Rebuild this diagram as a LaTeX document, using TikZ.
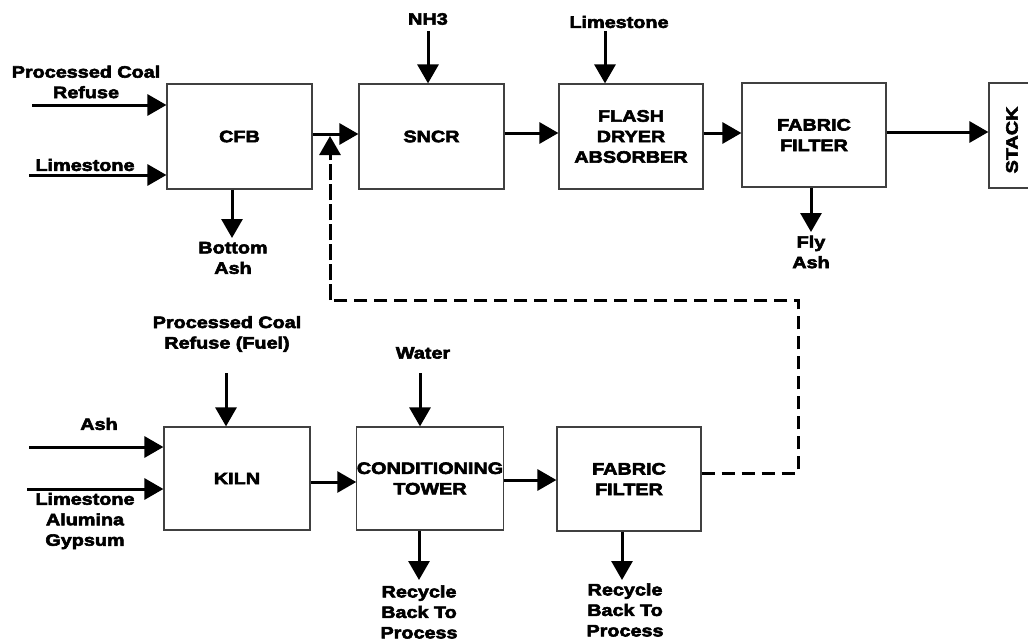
\documentclass[tikz,border=0pt]{standalone}
\usepackage{fontspec}
\setmainfont{Liberation Sans}[FakeStretch=1.2, BoldFeatures={FakeBold=3.5}]
\usetikzlibrary{arrows.meta}
\tikzset{
  box/.style={draw=black!75, line width=1.2pt, fill=white, align=center, inner sep=0pt},
  lbl/.style={align=center, inner sep=0pt, font=\bfseries\fontsize{16.5}{20.5}\selectfont},
  arr/.style={line width=3pt, -{Triangle[length=19pt,width=21pt]}},
  dsh/.style={line width=3pt, dash pattern=on 13pt off 7pt}
}
\begin{document}
\begin{tikzpicture}[x=1pt,y=-1pt]
\useasboundingbox (0,0) rectangle (1028,642);
\clip (0,0) rectangle (1028,642);
\fill[white] (0,0) rectangle (1028,642);
\begin{scope}[every node/.append style={font=\bfseries\fontsize{16.5}{20.5}\selectfont}]
% top row boxes
\node[box, minimum width=145pt, minimum height=105pt] (cfb) at (239.5,136.5) {CFB};
\node[box, minimum width=145pt, minimum height=105pt] (sncr) at (431.5,136.5) {SNCR};
\node[box, minimum width=144pt, minimum height=105pt] (fda) at (631,136.5) {FLASH\\DRYER\\ABSORBER};
\node[box, minimum width=144pt, minimum height=104pt] (ff1) at (814,135) {FABRIC\\FILTER};
\node[box, minimum width=51pt, minimum height=105pt] (stack) at (1014.5,135.5) {};
\node[lbl, rotate=90] (stacklbl) at (1012,140) {STACK};
% bottom row boxes
\node[box, minimum width=146pt, minimum height=103pt] (kiln) at (237,478.5) {KILN};
\node[box, minimum width=146pt, minimum height=103pt] (ct) at (430,478.5) {CONDITIONING\\TOWER};
\node[box, minimum width=144pt, minimum height=104pt] (ff2) at (629,479) {FABRIC\\FILTER};
\end{scope}

% labels
\node[lbl] (pcr) at (86,82) {Processed Coal\\Refuse};
\node[lbl] (lime1) at (85,165) {Limestone};
\node[lbl] (bash) at (233,258) {Bottom\\Ash};
\node[lbl] (nh3) at (428,19) {NH3};
\node[lbl] (lime2) at (619,22) {Limestone};
\node[lbl] (flyash) at (811,252) {Fly\\Ash};
\node[lbl] (pcrf) at (227,334) {Processed Coal\\Refuse (Fuel)};
\node[lbl] (water) at (423,353) {Water};
\node[lbl] (ash) at (99,424) {Ash};
\node[lbl] (lag) at (85,521) {Limestone\\Alumina\\Gypsum};
\node[lbl] (rec1) at (419,612) {Recycle\\Back To\\Process};
\node[lbl] (rec2) at (625,610) {Recycle\\Back To\\Process};

% free ends
\coordinate (i1) at (32,105);
\coordinate (i2) at (29,175);
\coordinate (o1) at (232,238);
\coordinate (i3) at (428,31);
\coordinate (i4) at (605,31);
\coordinate (o2) at (811,232);
\coordinate (i5) at (226,373);
\coordinate (i6) at (29,447);
\coordinate (i7) at (27,489);
\coordinate (i8) at (420,373);
\coordinate (o3) at (419,580);
\coordinate (o4) at (622,580);
\coordinate (d1) at (798,473);
\coordinate (d2) at (798,300);
\coordinate (d3) at (330,300);
\coordinate (d4) at (330,136);

% connectors top
\draw[arr] (i1) -- (i1 -| cfb.west);
\draw[arr] (i2) -- (i2 -| cfb.west);
\draw[arr] (o1 |- cfb.south) -- (o1);
\draw[arr] (cfb.east |- 0,134) -- (sncr.west |- 0,134);
\draw[arr] (i3) -- (i3 |- sncr.north);
\draw[arr] (sncr.east |- 0,133) -- (fda.west |- 0,133);
\draw[arr] (i4) -- (i4 |- fda.north);
\draw[arr] (fda.east |- 0,133) -- (ff1.west |- 0,133);
\draw[arr] (o2 |- ff1.south) -- (o2);
\draw[arr] (ff1.east |- 0,132) -- (stack.west |- 0,132);
% connectors bottom
\draw[arr] (i5) -- (i5 |- kiln.north);
\draw[arr] (i6) -- (i6 -| kiln.west);
\draw[arr] (i7) -- (i7 -| kiln.west);
\draw[arr] (kiln.east |- 0,482) -- (ct.west |- 0,482);
\draw[arr] (i8) -- (i8 |- ct.north);
\draw[arr] (ct.east |- 0,480) -- (ff2.west |- 0,480);
\draw[arr] (o3 |- ct.south) -- (o3);
\draw[arr] (o4 |- ff2.south) -- (o4);
% dashed recycle
\draw[dsh] (ff2.east |- d1) -- (d1) -- (d2) -- (d3) -- (330,160);
\draw[arr, dsh] (d3) -- (d4);
\end{tikzpicture}
\end{document}
